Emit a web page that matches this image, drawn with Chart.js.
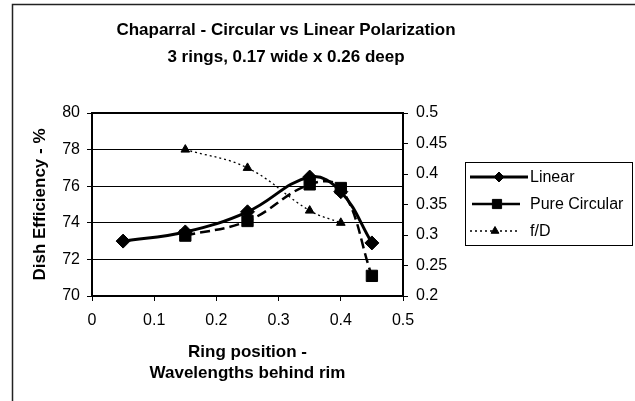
<!DOCTYPE html>
<html>
<head>
<meta charset="utf-8">
<title>Chaparral - Circular vs Linear Polarization</title>
<script src="https://cdn.jsdelivr.net/npm/chart.js@4.4.1/dist/chart.umd.min.js"></script>
<style>
  html, body { margin: 0; padding: 0; background: #fff; }
  canvas { display: block; }
</style>
</head>
<body>
<canvas id="ringChart" width="635" height="401"></canvas>
<script>
// Ring position (wavelengths behind rim) and measured results
const ringPositions = [0.05, 0.15, 0.25, 0.35, 0.4, 0.45];
const linearEff     = [73.0, 73.5, 74.6, 76.5, 75.7, 72.9];
const circularEff   = [null, 73.3, 74.1, 76.1, 75.9, 71.1];
const fOverD        = [null, 0.44, 0.41, 0.34, 0.32, null];

// Axis tick labels
const positionTicks   = [0, 0.1, 0.2, 0.3, 0.4, 0.5];
const efficiencyTicks = [70, 72, 74, 76, 78, 80];
const fdTicks         = [0.2, 0.25, 0.3, 0.35, 0.4, 0.45, 0.5];

const titleLines = ['Chaparral - Circular vs Linear Polarization', '3 rings, 0.17 wide x 0.26 deep'];

const FONT = '"Liberation Sans", Arial, Helvetica, sans-serif';

function points(values) {
    return ringPositions.map((x, i) => ({ x: x, y: values[i] }));
}

function fixedTicks(list) {
    return function(scale) {
        scale.ticks = list.map(v => ({ value: v }));
    };
}

function plainNumber(v) {
    return String(parseFloat(Number(v).toFixed(3)));
}

// Frame, title, outer border and legend
const decorations = {
    id: 'decorations',
    beforeDatasetsDraw(chart) {
        const { ctx, chartArea: a } = chart;
        ctx.save();
        ctx.strokeStyle = '#000';
        ctx.lineWidth = 2;
        ctx.strokeRect(a.left, a.top, a.right - a.left, a.bottom - a.top);
        ctx.restore();
    },
    afterDraw(chart) {
        const ctx = chart.ctx;
        ctx.save();

        // outer border of the chart object
        ctx.strokeStyle = '#222';
        ctx.lineWidth = 1.5;
        ctx.strokeRect(12.5, 4.5, 700, 500);

        // title
        ctx.fillStyle = '#000';
        ctx.font = 'bold 17px ' + FONT;
        ctx.textAlign = 'center';
        ctx.textBaseline = 'middle';
        ctx.fillText(titleLines[0], 286, 30);
        ctx.fillText(titleLines[1], 286, 57);

        // legend
        const box = { x: 465.5, y: 162.5, w: 167, h: 83 };
        ctx.lineWidth = 1;
        ctx.strokeStyle = '#000';
        ctx.strokeRect(box.x, box.y, box.w, box.h);

        const rows = [177, 204, 231];
        const lineEnds = [[470, 528], [472, 520], [470, 520]];
        const legendDash = [[], [21, 9], [2, 3]];
        const markerX = [499, 497, 495];
        const markerR = [5, 6.5, 4.5];
        ctx.font = '16px ' + FONT;
        ctx.textAlign = 'left';
        chart.data.datasets.forEach((ds, i) => {
            const y = rows[i];
            ctx.save();
            ctx.strokeStyle = ds.borderColor;
            ctx.lineWidth = ds.borderWidth;
            ctx.setLineDash(legendDash[i]);
            ctx.beginPath();
            ctx.moveTo(lineEnds[i][0], y);
            ctx.lineTo(lineEnds[i][1], y);
            ctx.stroke();
            ctx.restore();

            ctx.save();
            ctx.fillStyle = '#000';
            ctx.strokeStyle = '#000';
            ctx.lineWidth = 1;
            Chart.helpers.drawPoint(ctx, { pointStyle: ds.pointStyle, radius: markerR[i], rotation: 0, borderWidth: 1 }, markerX[i], y);
            ctx.restore();

            ctx.fillStyle = '#000';
            ctx.fillText(ds.label, 530, y + 1);
        });
        ctx.restore();
    }
};

new Chart(document.getElementById('ringChart').getContext('2d'), {
    type: 'line',
    data: {
        datasets: [
            {
                label: 'Linear',
                data: points(linearEff),
                yAxisID: 'y',
                borderColor: '#000',
                backgroundColor: '#000',
                borderWidth: 3,
                tension: 0.4,
                pointStyle: 'rectRot',
                pointRadius: 7,
                pointBorderWidth: 1
            },
            {
                label: 'Pure Circular',
                data: points(circularEff),
                yAxisID: 'y',
                borderColor: '#000',
                backgroundColor: '#000',
                borderWidth: 2.5,
                borderDash: [10, 5],
                tension: 0.4,
                pointStyle: 'rect',
                pointRadius: 8,
                pointBorderWidth: 1
            },
            {
                label: 'f/D',
                data: points(fOverD),
                yAxisID: 'y2',
                borderColor: '#000',
                backgroundColor: '#000',
                borderWidth: 1.3,
                borderDash: [2, 3],
                tension: 0.4,
                pointStyle: 'triangle',
                pointRadius: 5,
                pointBorderWidth: 1
            }
        ]
    },
    options: {
        responsive: false,
        animation: false,
        layout: { padding: { left: 0, right: 0, top: 113, bottom: 0 } },
        plugins: {
            legend: { display: false },
            title: { display: false },
            tooltip: { enabled: false }
        },
        scales: {
            x: {
                type: 'linear',
                position: 'bottom',
                min: positionTicks[0],
                max: positionTicks[positionTicks.length - 1],
                afterBuildTicks: fixedTicks(positionTicks),
                afterFit(scale) { scale.height = 105; },
                grid: { drawOnChartArea: false, color: '#000', tickLength: 5, tickWidth: 1 },
                border: { color: '#000', width: 2 },
                ticks: { color: '#000', padding: 10, font: { family: FONT, size: 16 }, callback: plainNumber, maxRotation: 0 },
                title: {
                    display: true,
                    text: ['Ring position -', 'Wavelengths behind rim'],
                    color: '#000',
                    font: { family: FONT, size: 17, weight: 'bold', lineHeight: 1.25 },
                    padding: { top: 0, bottom: 17 }
                }
            },
            y: {
                position: 'left',
                min: efficiencyTicks[0],
                max: efficiencyTicks[efficiencyTicks.length - 1],
                afterBuildTicks: fixedTicks(efficiencyTicks),
                afterFit(scale) { scale.width = 92; },
                grid: { color: '#000', lineWidth: 1, tickLength: 5 },
                border: { color: '#000', width: 2 },
                ticks: { color: '#000', padding: 7, font: { family: FONT, size: 16 }, callback: plainNumber },
                title: {
                    display: true,
                    text: 'Dish Efficiency - %',
                    color: '#000',
                    font: { family: FONT, size: 17, weight: 'bold' },
                    padding: { top: 30, bottom: 0 }
                }
            },
            y2: {
                position: 'right',
                min: fdTicks[0],
                max: fdTicks[fdTicks.length - 1],
                afterBuildTicks: fixedTicks(fdTicks),
                afterFit(scale) { scale.width = 635 - 403; },
                grid: { drawOnChartArea: false, color: '#000', tickLength: 5 },
                border: { color: '#000', width: 2 },
                ticks: { color: '#000', padding: 8, font: { family: FONT, size: 16 }, callback: plainNumber }
            }
        }
    },
    plugins: [decorations]
});
</script>
</body>
</html>
